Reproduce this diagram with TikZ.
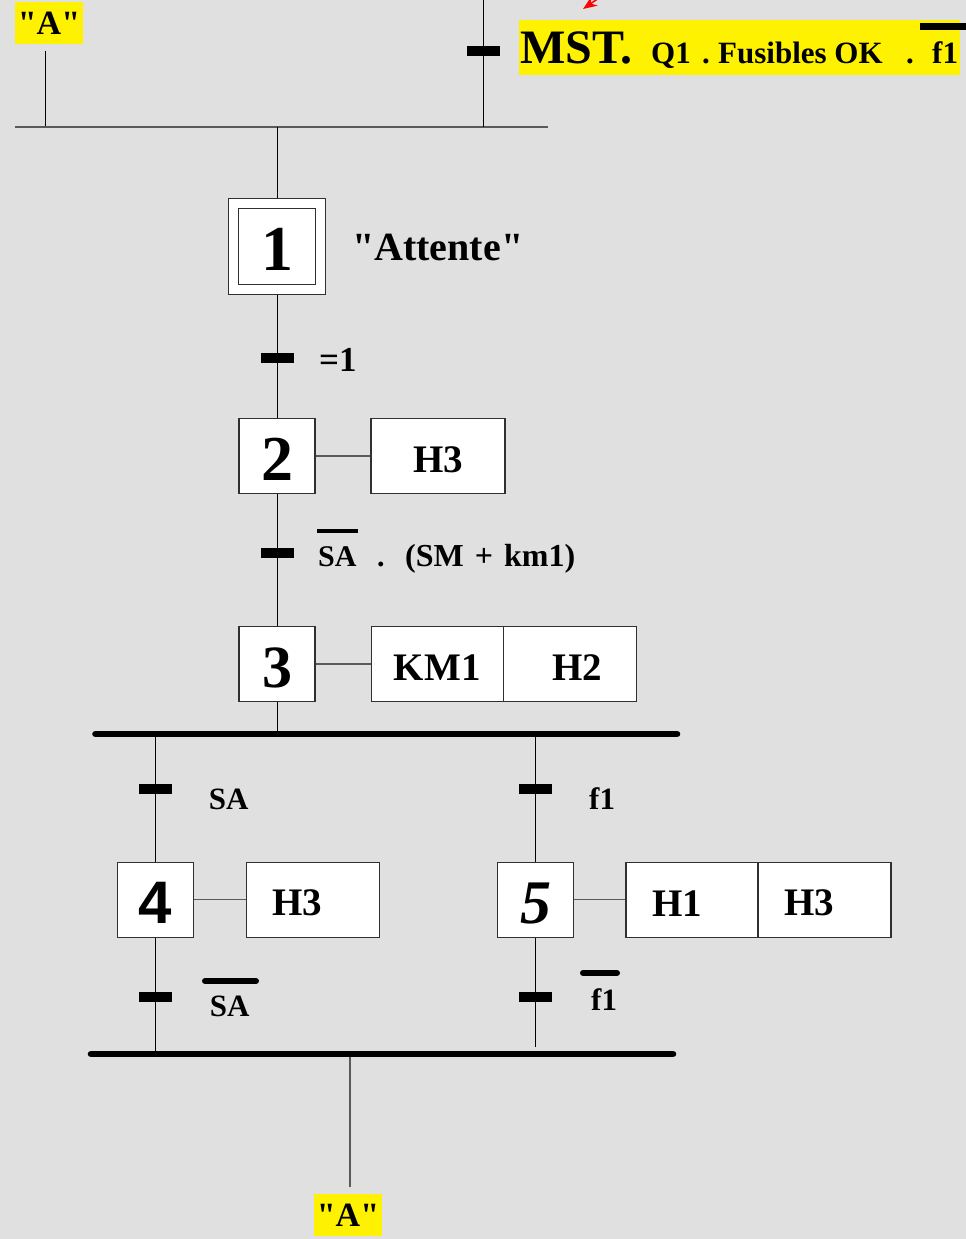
\documentclass[tikz,border=0pt]{standalone}
\usepackage{fontspec}
\setmainfont{Liberation Serif}
\newfontfamily\sansbf{Liberation Sans}
\newfontfamily\qfont{Liberation Serif}
\usetikzlibrary{arrows.meta}
\definecolor{bg}{HTML}{E0E0E0}
\definecolor{lk}{HTML}{5A5A5A}
\definecolor{bx}{HTML}{303030}
\newcommand{\fsz}[1]{\fontsize{#1}{#1}\selectfont\bfseries}
\newcommand{\dn}[1]{\raisebox{-3.5pt}[\height][\depth]{#1}}
\newcommand{\qq}{{\qfont\bfseries"}}
\begin{document}
\begin{tikzpicture}[x=1pt,y=-1pt,
  stepbox/.style={draw=bx, fill=white, line width=1.1pt, minimum width=76pt, minimum height=75pt, inner sep=0pt},
  actbox/.style={draw=bx, fill=white, line width=1.1pt, minimum height=75pt, inner sep=0pt, font=\fsz{39}},
  trans/.style={fill=black, minimum width=33pt, minimum height=10pt, inner sep=0pt},
  txt/.style={inner sep=0pt, anchor=base west},
  flow/.style={line width=1pt, black},
  link/.style={line width=1.2pt, lk},
  bigbar/.style={line width=6.6pt, line cap=round},
  obar/.style={line width=6pt, line cap=round},
  yel/.style={fill=yellow, inner sep=0pt},
]
\fill[bg] (0,0) rectangle (966,1239);
\useasboundingbox (0,0) rectangle (966,1239);

% top left "A"
\node[yel, minimum width=68pt, minimum height=42pt, font=\fsz{34}] (A1) at (49,23) {\qq A\qq};
\coordinate (a1s) at (45,51);
\coordinate (a1e) at (45,127);
\draw[flow] (a1s) -- (a1e);

% top horizontal line
\coordinate (h1L) at (15,127);
\coordinate (h1R) at (548,127);
\draw[link] (h1L) -- (h1R);

% top incoming branch
\coordinate (top) at (483,-2);
\coordinate (j0) at (483,127);
\draw[flow] (top) -- (j0);
\node[trans] (t0) at (483,51) {};

% red arrowhead
\coordinate (rs) at (625,-20);
\coordinate (re) at (583,9);
\draw[red, line width=1.5pt, -{Stealth[length=14pt,width=11pt]}] (rs) -- (re);

% top yellow label
\node[yel, anchor=north west, minimum width=441pt, minimum height=55pt] (lab0) at (519,20) {};
\node[txt, font=\fsz{48}] (mst) at (520,63.3) {MST.};
\node[txt, font=\fsz{31}] (q1) at (651,63.3) {Q1};
\node[txt, font=\fsz{31}] (d1) at (702,63.3) {.};
\node[txt, font=\fsz{31}] (fus) at (718,63.3) {Fusibles OK};
\node[txt, font=\fsz{31}] (d2) at (906,63.3) {.};
\node[txt, font=\fsz{31}] (f1t) at (932,63.3) {f1};
\coordinate (ob0a) at (920,27);
\coordinate (ob0b) at (970,27);
\draw[line width=7pt] (ob0a) -- (ob0b);

% step 1
\coordinate (j1) at (277,127);
\node[stepbox, minimum width=96.7pt, minimum height=96pt] (s1) at (277,246.3) {};
\node[stepbox, minimum width=76.7pt, minimum height=75.7pt, font=\fsz{64}] (s1i) at (277,246.3) {\dn{1}};
\draw[flow] (j1) -- (s1.north);
\node[txt, font=\fsz{40}] (att) at (352,260) {\qq Attente\qq};

% step 2
\node[stepbox, font=\fsz{64}] (s2) at (277,456) {\dn{2}};
\node[actbox, minimum width=134pt] (a2) at (438,456) {\dn{H3}};
\draw[flow] (s1.south) -- (s2.north);
\draw[link] (s2.east) -- (a2.west);
\node[trans] (t1) at (277,358.3) {};
\node[txt, font=\fsz{35}] (l1) at (319,371.7) {=1};

% step 3
\node[stepbox, font=\fsz{60}] (s3) at (277,664) {\dn{3}};
\node[actbox, minimum width=132.3pt] (a3a) at (437.2,664) {\dn{KM1}};
\node[actbox, minimum width=133.4pt] (a3b) at (570,664) {\dn{\hspace*{15pt}H2}};
\draw[flow] (s2.south) -- (s3.north);
\draw[link] (s3.east) -- (a3a.west);
\node[trans] (t2) at (277,552.8) {};
\node[txt, font=\fsz{30}] (l2a) at (318,566) {SA};
\coordinate (ob1a) at (317,531);
\coordinate (ob1b) at (358,531);
\draw[line width=3.6pt] (ob1a) -- (ob1b);
\node[txt, font=\fsz{30}] (l2b) at (377,566) {.};
\node[txt, font=\fsz{32}] (l2c) at (405,566) {(SM\hspace{3pt} + \hspace{3pt}km1)};

% divergence bar
\coordinate (b1L) at (95.5,734);
\coordinate (b1R) at (677,734);
\draw[flow] (s3.south) -- (s3.south |- b1L);
\draw[bigbar] (b1L) -- (b1R);
\coordinate (br4) at (155.5,734);
\coordinate (br5) at (535.5,734);

% step 4
\node[stepbox, font=\sansbf\fontsize{60}{60}\selectfont\bfseries] (s4) at (155.5,899.7) {\dn{4}};
\node[actbox, minimum width=133.2pt] (a4) at (313,899.7) {\dn{H3\hspace*{31pt}}};
\draw[flow] (br4) -- (s4.north);
\draw[link] (s4.east) -- (a4.west);
\node[trans] (t4a) at (155.5,789) {};
\node[txt, font=\fsz{31}] (l4a) at (208.7,809.3) {SA};

% step 5
\node[stepbox, font=\fsz{62}\itshape] (s5) at (535.5,899.7) {\dn{5}};
\node[actbox, minimum width=132pt] (a5a) at (692,899.7) {\dn{H1\hspace*{30pt}}};
\node[actbox, minimum width=133pt] (a5b) at (824.5,899.7) {\dn{H3\hspace*{30pt}}};
\draw[flow] (br5) -- (s5.north);
\draw[link] (s5.east) -- (a5a.west);
\node[trans] (t5a) at (535.5,789) {};
\node[txt, font=\fsz{31}] (l5a) at (589,809.3) {f1};

% lower transitions
\coordinate (b2L) at (91,1054);
\coordinate (b2R) at (673,1054);
\coordinate (e5) at (535.5,1047);
\draw[flow] (s4.south) -- (s4.south |- b2L);
\draw[flow] (s5.south) -- (e5);
\node[trans] (t4b) at (155.5,996.5) {};
\node[trans] (t5b) at (535.5,996.5) {};
\coordinate (ob4a) at (205,981);
\coordinate (ob4b) at (256,981);
\draw[obar] (ob4a) -- (ob4b);
\node[txt, font=\fsz{31}] (l4b) at (209.7,1016) {SA};
\coordinate (ob5a) at (583,973);
\coordinate (ob5b) at (617,973);
\draw[obar] (ob5a) -- (ob5b);
\node[txt, font=\fsz{31}] (l5b) at (591,1010) {f1};

% convergence bar
\draw[bigbar] (b2L) -- (b2R);
\coordinate (b2m) at (350,1057);
\coordinate (b2e) at (350,1187);
\draw[link] (b2m) -- (b2e);

% bottom "A"
\node[yel, minimum width=68pt, minimum height=42pt, font=\fsz{34}] (A2) at (348,1215) {\qq A\qq};
\end{tikzpicture}
\end{document}
